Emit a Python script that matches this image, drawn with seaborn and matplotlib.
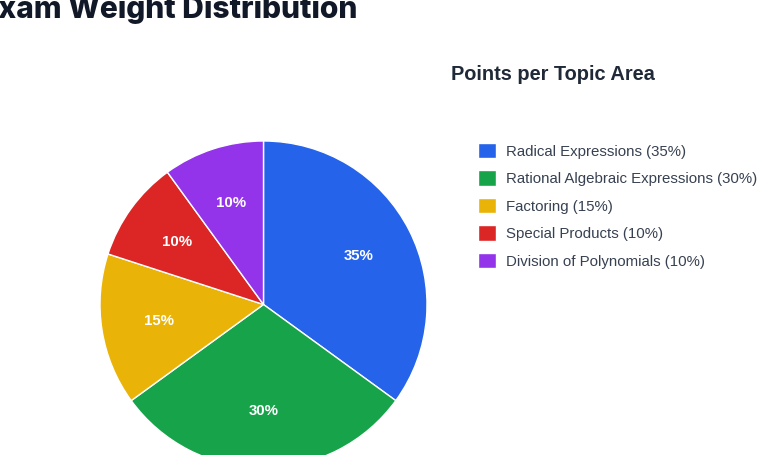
import matplotlib
matplotlib.use("Agg")
import matplotlib.pyplot as plt
import seaborn as sns

# Data
topics = ["Radical Expressions", "Rational Algebraic Expressions", "Factoring",
          "Special Products", "Division of Polynomials"]
weights = [35, 30, 15, 10, 10]
colors = ["#2563eb", "#16a34a", "#eab308", "#dc2626", "#9333ea"]
legend_labels = [f"{t} ({w}%)" for t, w in zip(topics, weights)]

sns.set_theme(style="white")
plt.rcParams["font.family"] = ["Liberation Sans", "DejaVu Sans"]

W, H = 768, 455
fig = plt.figure(figsize=(W / 100, H / 100), dpi=100)
fig.patch.set_facecolor("white")

# pie centre (263.5, 304.5) px from top, radius 163.5 px
r = 163.5
cx, cy = 263.5, 304.5
ax = fig.add_axes([(cx - r) / W, (H - cy - r) / H, 2 * r / W, 2 * r / H])
wedges, _, autotexts = ax.pie(
    weights, colors=colors, startangle=90, counterclock=False,
    autopct="%d%%", pctdistance=0.65, radius=1,
    wedgeprops=dict(edgecolor="white", linewidth=1),
    textprops=dict(color="white", fontsize=10.8, fontweight="bold"),
)
ax.set_xlim(-1, 1)
ax.set_ylim(-1, 1)
ax.set_axis_off()

fig.text(-20 / W, 1 - 9 / H, "Exam Weight Distribution", fontsize=21.6,
         fontweight="heavy", color="#111827", family=["Inter", "DejaVu Sans"],
         va="center", ha="left")

fig.text(451 / W, 1 - 74 / H, "Points per Topic Area", fontsize=14.4,
         fontweight="bold", color="#1f2937", va="center", ha="left")

fig.legend(wedges, legend_labels, loc="upper left",
           bbox_to_anchor=(478 / W, 1 - 143 / H), frameon=False,
           borderpad=0, borderaxespad=0, fontsize=10.8,
           handlelength=1.2, handleheight=1.2, handletextpad=0.66,
           labelspacing=0.78, labelcolor="#374151")

fig.savefig("out.png", dpi=100)
